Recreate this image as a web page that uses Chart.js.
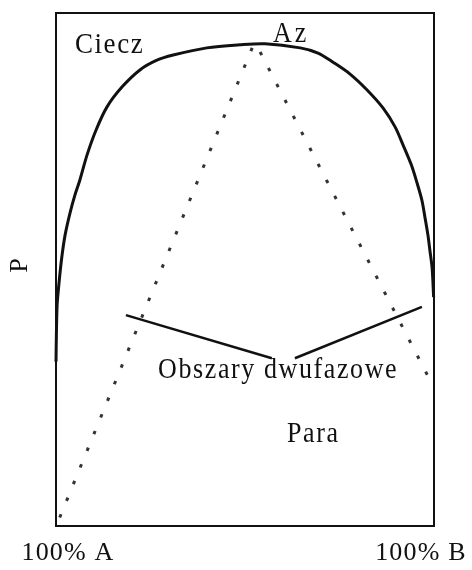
<!DOCTYPE html>
<html>
<head>
<meta charset="utf-8">
<script src="https://cdn.jsdelivr.net/npm/chart.js@4"></script>
<style>
  html, body { margin: 0; padding: 0; background: #fff; }
  #wrap { width: 472px; height: 570px; }
</style>
</head>
<body>
<div id="wrap"><canvas id="chart" width="472" height="570"></canvas></div>
<script>
// Krzywa ciśnienia (ciecz) - x: skład % B, y: P (skala względna 0-100)
const curveX = [0, 0.1, 0.3, 0.8, 1.5, 2.4, 3.7, 5.0, 6.3, 8.2, 10.6, 13.5, 17.5, 22.2, 26.7, 31.0, 39.9, 48.7, 55.3, 64.6, 69.3, 73.3, 77.8, 82.3, 86.5, 89.7, 91.8, 94.0, 95.5, 96.8, 97.6, 98.4, 98.9, 99.5, 99.9];
const curveY = [32.0, 37.2, 43.1, 47.4, 52.2, 56.7, 61.0, 64.5, 67.4, 72.3, 77.2, 81.7, 85.6, 88.9, 90.8, 91.8, 93.2, 93.8, 94.0, 93.2, 92.2, 90.4, 88.1, 85.0, 81.5, 77.8, 74.3, 70.4, 66.9, 63.5, 60.2, 56.7, 53.8, 50.3, 44.6];

// Linie przerywane od azeotropu
const dotLeftX = [51.9, 0.5];
const dotLeftY = [93.2, 0.8];
const dotRightX = [54.0, 98.9];
const dotRightY = [92.4, 28.5];

// Linie wskazujące obszary dwufazowe
const ptrLeftX = [18.5, 57.1];
const ptrLeftY = [41.1, 32.7];
const ptrRightX = [63.2, 96.8];
const ptrRightY = [32.7, 42.7];

// Napisy wewnątrz wykresu
const labelTexts = ['Ciecz', 'Az', 'Obszary dwufazowe', 'Para'];
const labelX = [5.0, 57.4, 27.0, 61.1];
const labelY = [92.2, 94.3, 28.8, 16.4];

const axisLabels = ['100% A', '100% B', 'P'];

const toPts = (xs, ys) => xs.map((x, i) => ({ x: x, y: ys[i] }));

const SERIF = '"Liberation Serif", "Times New Roman", serif';

const framePlugin = {
    id: 'frameAndText',
    afterDatasetsDraw(chart) {
        const { ctx, chartArea, scales } = chart;
        ctx.save();
        // ramka
        ctx.strokeStyle = '#111';
        ctx.lineWidth = 2;
        ctx.strokeRect(chartArea.left, chartArea.top, chartArea.right - chartArea.left, chartArea.bottom - chartArea.top);

        ctx.fillStyle = '#111';
        ctx.textBaseline = 'alphabetic';
        ctx.textAlign = 'left';
        labelTexts.forEach((t, i) => {
            ctx.save();
            const px = scales.x.getPixelForValue(labelX[i]);
            const py = scales.y.getPixelForValue(labelY[i]);
            ctx.translate(px, py);
            ctx.scale(1, 1.12); // litery w oryginale są nieco wyższe
            ctx.font = (i === 0 ? '27px ' : '26px ') + SERIF;
            ctx.letterSpacing = i === 1 ? '3px' : '1.6px';
            ctx.fillText(t, 0, 0);
            ctx.restore();
        });

        // opisy osi
        ctx.font = '26px ' + SERIF;
        ctx.letterSpacing = '1.2px';
        ctx.textAlign = 'center';
        ctx.fillText(axisLabels[0], chartArea.left + 12, chartArea.bottom + 34);
        ctx.fillText(axisLabels[1], chartArea.right - 13, chartArea.bottom + 34);

        ctx.translate(chartArea.left - 36, (chartArea.top + chartArea.bottom) / 2 - 4);
        ctx.rotate(-Math.PI / 2);
        ctx.letterSpacing = '0px';
        ctx.textBaseline = 'middle';
        ctx.fillText(axisLabels[2], 0, 0);
        ctx.restore();
    }
};

const lineDs = (data, opts) => Object.assign({
    data: data,
    showLine: true,
    pointRadius: 0,
    borderColor: '#111',
    backgroundColor: '#111',
    clip: false
}, opts);

new Chart(document.getElementById('chart'), {
    type: 'scatter',
    data: {
        datasets: [
            lineDs(toPts(curveX, curveY), { borderWidth: 3, tension: 0.3 }),
            lineDs(toPts(dotLeftX, dotLeftY), { borderWidth: 3, borderColor: '#333', borderDash: [3.5, 14.5] }),
            lineDs(toPts(dotRightX, dotRightY), { borderWidth: 3, borderColor: '#333', borderDash: [3.5, 14.5] }),
            lineDs(toPts(ptrLeftX, ptrLeftY), { borderWidth: 2.5 }),
            lineDs(toPts(ptrRightX, ptrRightY), { borderWidth: 2.5 })
        ]
    },
    options: {
        responsive: false,
        animation: false,
        layout: { padding: { left: 56, right: 38, top: 13, bottom: 44 } },
        scales: {
            x: { type: 'linear', min: 0, max: 100, display: false },
            y: { type: 'linear', min: 0, max: 100, display: false }
        },
        plugins: {
            legend: { display: false },
            tooltip: { enabled: false }
        }
    },
    plugins: [framePlugin]
});
</script>
</body>
</html>
